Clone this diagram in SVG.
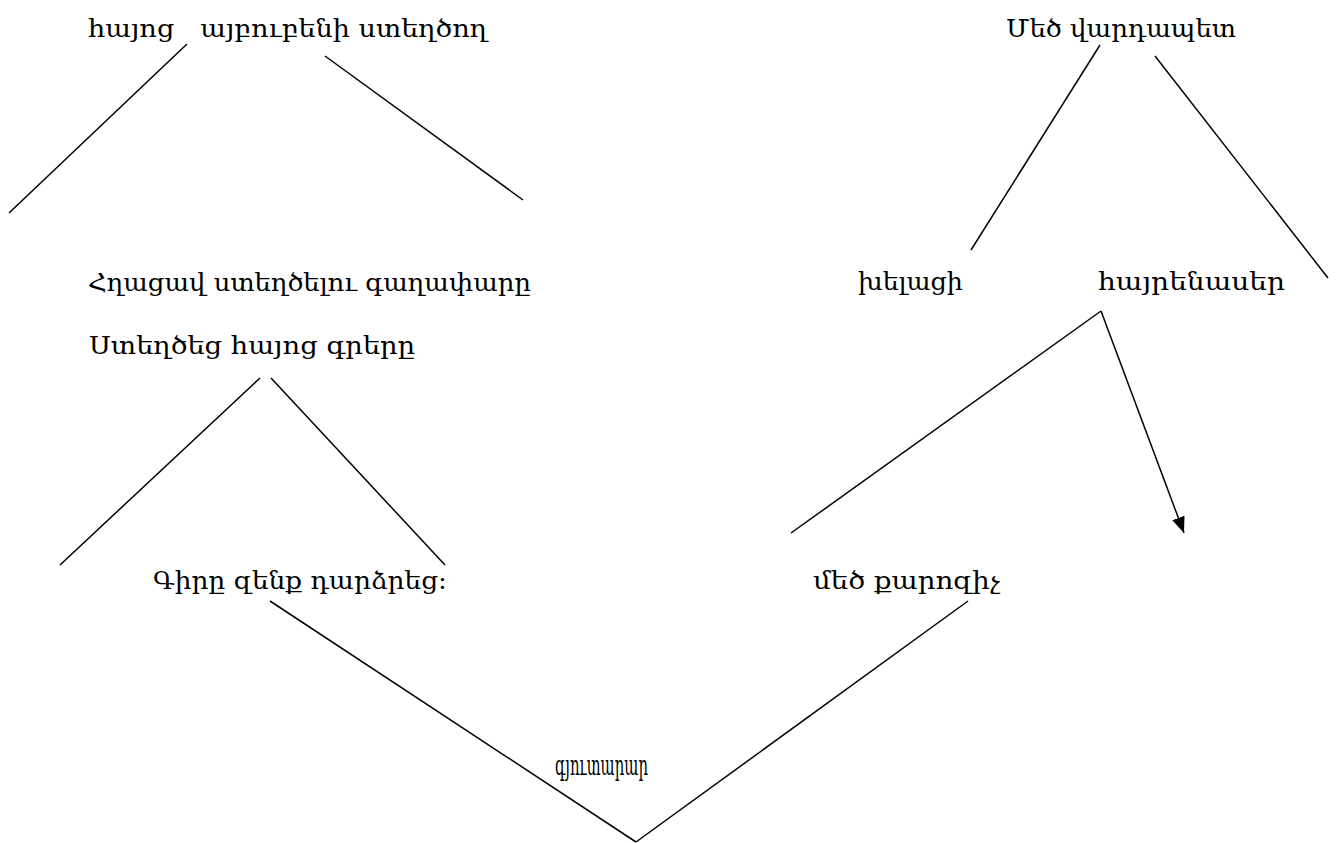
<svg xmlns="http://www.w3.org/2000/svg" width="1336" height="843" viewBox="0 0 1336 843">
<defs>
<style>
text{font-family:"DejaVu Serif","Noto Serif","Liberation Serif",serif;font-size:25px;fill:#000;white-space:pre}
line{stroke:#000;stroke-width:1.5;fill:none}
</style>
<marker id="arrow" viewBox="0 0 16 13" refX="16" refY="6.5" markerWidth="16" markerHeight="13" markerUnits="userSpaceOnUse" orient="auto">
<path d="M0,0 L16,6.5 L0,13 Z" fill="#000"/>
</marker>
</defs>
<rect width="1336" height="843" fill="#fff"/>
<g id="connectors">
<line x1="187" y1="44" x2="9" y2="213"/>
<line x1="325" y1="56" x2="523" y2="200"/>
<line x1="1100" y1="45" x2="971" y2="250"/>
<line x1="1155" y1="56" x2="1328" y2="278"/>
<line x1="260" y1="378" x2="60" y2="565"/>
<line x1="271" y1="378" x2="445" y2="565"/>
<line x1="1101" y1="311" x2="791" y2="533"/>
<line x1="1101" y1="311" x2="1184" y2="533" marker-end="url(#arrow)"/>
<line x1="270" y1="601" x2="636" y2="842"/>
<line x1="968" y1="601" x2="636" y2="842"/>
</g>
<g id="node-hayots"><text x="88" y="37" xml:space="preserve" textLength="399" lengthAdjust="spacingAndGlyphs">հայոց   այբուբենի ստեղծող</text></g>
<g id="node-mets-vardapet"><text x="1006" y="37" textLength="230" lengthAdjust="spacingAndGlyphs">Մեծ վարդապետ</text></g>
<g id="node-hghatsav"><text x="88" y="291" textLength="443" lengthAdjust="spacingAndGlyphs">Հղացավ ստեղծելու գաղափարը</text></g>
<g id="node-khelatsi"><text x="858" y="290" textLength="105" lengthAdjust="spacingAndGlyphs">խելացի</text></g>
<g id="node-hayrenaser"><text x="1098" y="290" textLength="187" lengthAdjust="spacingAndGlyphs">հայրենասեր</text></g>
<g id="node-steghtsets"><text x="89" y="354" textLength="326" lengthAdjust="spacingAndGlyphs">Ստեղծեց հայոց գրերը</text></g>
<g id="node-gir"><text x="153" y="589" textLength="294" lengthAdjust="spacingAndGlyphs">Գիրը զենք դարձրեց:</text></g>
<g id="node-mets-karozich"><text x="813" y="589" textLength="187" lengthAdjust="spacingAndGlyphs">մեծ քարոզիչ</text></g>
<g id="node-gyutarar"><text x="555" y="775" style="font-size:28px" textLength="93" lengthAdjust="spacingAndGlyphs">գյուտարար</text></g>
</svg>
